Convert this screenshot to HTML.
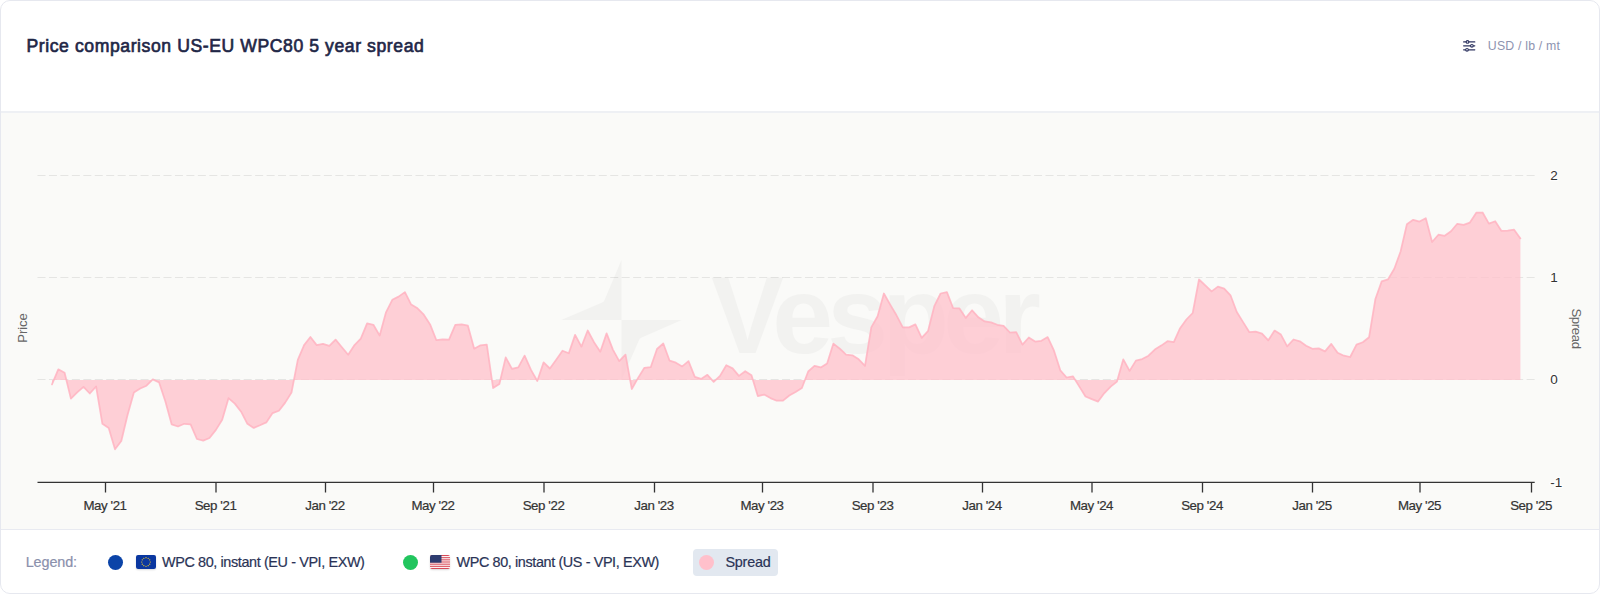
<!DOCTYPE html>
<html lang="en"><head><meta charset="utf-8"><title>Price comparison US-EU WPC80 5 year spread</title>
<style>
*{box-sizing:border-box}
html,body{margin:0;padding:0;background:#fff;width:1600px;height:594px;overflow:hidden}
body{font-family:"Liberation Sans",sans-serif;position:relative}
.card{position:absolute;left:0;top:0;width:1600px;height:594px;border:1px solid #e6e8ef;border-radius:10px;background:#fff;overflow:hidden}
.title{position:absolute;left:25.5px;top:34px;font-size:17.6px;line-height:22px;font-weight:400;-webkit-text-stroke:0.65px #1f2747;color:#1f2747;white-space:nowrap;letter-spacing:0.58px}
.units{position:absolute;left:1486.8px;top:38px;font-size:12.3px;line-height:14px;color:#8e93b0;white-space:nowrap;letter-spacing:0.2px}
.ico{position:absolute;left:1461px;top:38.1px;width:14px;height:14px}
.sep1{position:absolute;left:0;top:110px;width:1600px;height:2px;background:#eef0f4}
.chart{position:absolute;left:0;top:112px;width:1598px;height:417px;background:#fafaf8}
.sep2{position:absolute;left:0;top:528px;width:1600px;height:1px;background:#e8eaf1}
svg.plot{position:absolute;left:-1px;top:-1px;width:1600px;height:594px}
.legend{position:absolute;left:0;top:529px;width:1598px;height:64px;font-size:14.4px;color:#2a3356;-webkit-text-stroke:0.2px}
.legend span{position:absolute;top:24px;line-height:17px;white-space:nowrap}
.dot{position:absolute;width:15px;height:15px;border-radius:50%;top:24.6px}
.chip{position:absolute;left:692px;top:19px;width:85px;height:27px;border-radius:4px;background:#e2e8f0}
.flag{position:absolute;top:24.8px;width:20px;height:14px;border-radius:2px;overflow:hidden;box-shadow:0 1px 2px rgba(0,0,0,.15)}
</style></head><body>
<div class="card">
<div class="title">Price comparison US-EU WPC80 5 year spread</div>
<svg class="ico" viewBox="0 0 14 14" fill="none" stroke="#2e3460" stroke-width="1.15" stroke-linecap="round"><path d="M1.6 2.9H12.8M1.6 6.8H12.8M1.6 10.8H12.8"/><circle cx="5.5" cy="2.9" r="1.35" fill="#fff"/><circle cx="9.9" cy="6.8" r="1.35" fill="#fff"/><circle cx="5" cy="10.8" r="1.35" fill="#fff"/></svg>
<div class="units">USD / lb / mt</div>
<div class="sep1"></div>
<div class="chart"></div>
<div class="sep2"></div>
<svg class="plot" viewBox="0 0 1600 594">
<g stroke="#e5e5e3" stroke-width="1" stroke-dasharray="8 3.4547" fill="none">
<path d="M37.5 175.5H1534.75M37.5 277.5H1534.75M37.5 379.5H1534.75"/></g>
<g fill="#000" opacity="0.028">
<path d="M621.5 260 L604.6 300 Q603.8 302 601.8 302.8 L561.3 320 H621.5 Z"/>
<path d="M621.5 380 L638.8 340.4 Q639.6 338.4 641.6 337.6 L681.6 320 H621.5 Z"/>
<text x="711" y="353" font-family="Liberation Sans,sans-serif" font-weight="700" font-size="109.4" letter-spacing="-5.8">Vesper</text>
</g>
<polygon points="52,380 52,384.4 58.3,369.3 64.6,372.7 70.9,398.6 77.2,392.3 83.5,386.9 89.8,393.5 96.1,386.5 102.4,423.8 108.7,427.9 115,449.3 121.3,441 127.6,414.7 133.9,392.5 140.2,388.5 146.5,385.7 152.8,379.4 159.1,382.4 165.4,401.6 171.7,424.4 178,426.5 184.3,423.8 190.6,424.4 196.9,439 203.2,440.6 209.5,438 215.9,429.9 222.2,419.8 228.5,398.2 234.8,403.6 241.1,411.7 247.4,423.8 253.7,427.9 260,425.3 266.3,422.4 272.6,413.1 278.9,410.7 285.2,402.6 291.5,392.5 297.8,359.8 304.1,345.1 310.4,337 316.7,345.1 323,343.8 329.3,345.9 335.6,339.6 341.9,347.3 348.2,354.7 354.5,345.1 360.8,338.6 367.1,323.4 373.4,324.8 379.7,335.6 386,312.3 392.3,299.8 398.6,296.6 404.9,292.1 411.2,304.6 417.5,308.3 423.8,314.7 430.1,324.4 436.4,340.2 442.7,339.4 449,339.6 455.3,324.8 461.6,324.4 467.9,325.7 474.2,348.7 480.5,345.3 486.8,344.6 493.1,388.1 499.4,384 505.7,357.4 512,368.9 518.3,367.3 524.6,355.6 531,369.9 537.3,381 543.6,362.4 549.9,368.5 556.2,359.8 562.5,350.7 568.8,353.3 575.1,334.9 581.4,346.7 587.7,330.5 594,342.2 600.3,351.7 606.6,333.4 612.9,349.6 619.2,361.1 625.5,354.6 631.8,389 638.1,377.9 644.4,367.8 650.7,367.2 657,349 663.3,343.5 669.6,360.7 675.9,362.7 682.2,366.4 688.5,361.1 694.8,376.9 701.1,378.9 707.4,374.8 713.7,381.9 720,375.9 726.3,365.2 732.6,368.4 738.9,375.9 745.2,371.2 751.5,375.3 757.8,396.1 764.1,394.6 770.4,398.1 776.7,400.7 783,400.7 789.3,395.5 795.6,392.1 801.9,388 808.2,371.5 814.5,365.8 820.8,367.4 827.1,363.4 833.4,343.6 839.8,348.6 846.1,354.7 852.4,355.3 858.7,359.3 865,365.8 871.3,327.4 877.6,316.3 883.9,293.5 890.2,304.6 896.5,315.3 902.8,327.4 909.1,327.4 915.4,324.4 921.7,337.9 928,331.1 934.3,306.2 940.6,293.5 946.9,292.1 953.2,308.2 959.5,308.4 965.8,317.9 972.1,310.3 978.4,317.3 984.7,321.4 991,322.4 997.3,324.8 1003.6,325.8 1009.9,332.5 1016.2,332.1 1022.5,344.6 1028.8,337.5 1035.1,341.6 1041.4,340.8 1047.7,337.1 1054,350.7 1060.3,370.3 1066.6,377.5 1072.9,376.3 1079.2,386.4 1085.5,396.5 1091.8,399.1 1098.1,401.6 1104.4,393.1 1110.7,386.6 1117,381.6 1123.3,359.3 1129.6,370.9 1135.9,360.6 1142.2,359.1 1148.5,355.7 1154.8,349.6 1161.2,345.6 1167.5,341.2 1173.8,342.1 1180.1,328.2 1186.4,319.5 1192.7,313 1199,279.5 1205.3,285.4 1211.6,291.4 1217.9,286.6 1224.2,288.6 1230.5,295.3 1236.8,312 1243.1,322.1 1249.4,332.2 1255.7,331.6 1262,333.6 1268.3,340.3 1274.6,330.6 1280.9,334.6 1287.2,346.4 1293.5,339.5 1299.8,341.3 1306.1,345.8 1312.4,348.8 1318.7,348.4 1325,351.4 1331.3,343.9 1337.6,352.8 1343.9,355.7 1350.2,357 1356.5,344.6 1362.8,342.2 1369.1,337.2 1375.4,299 1381.7,281.4 1388,279.4 1394.3,268.7 1400.6,251.5 1406.9,224.2 1413.2,219.8 1419.5,221.6 1425.8,218.2 1432.1,242 1438.4,234.7 1444.7,235.8 1451,231.3 1457.3,223.8 1463.6,224.8 1469.9,222.6 1476.3,212.7 1482.6,212.5 1488.9,223.6 1495.2,221.2 1501.5,230.9 1507.8,230.7 1514.1,229.7 1520.4,238.4 1520.4,380" fill="#ffc0cb" fill-opacity="0.75"/>
<polyline points="52,384.4 58.3,369.3 64.6,372.7 70.9,398.6 77.2,392.3 83.5,386.9 89.8,393.5 96.1,386.5 102.4,423.8 108.7,427.9 115,449.3 121.3,441 127.6,414.7 133.9,392.5 140.2,388.5 146.5,385.7 152.8,379.4 159.1,382.4 165.4,401.6 171.7,424.4 178,426.5 184.3,423.8 190.6,424.4 196.9,439 203.2,440.6 209.5,438 215.9,429.9 222.2,419.8 228.5,398.2 234.8,403.6 241.1,411.7 247.4,423.8 253.7,427.9 260,425.3 266.3,422.4 272.6,413.1 278.9,410.7 285.2,402.6 291.5,392.5 297.8,359.8 304.1,345.1 310.4,337 316.7,345.1 323,343.8 329.3,345.9 335.6,339.6 341.9,347.3 348.2,354.7 354.5,345.1 360.8,338.6 367.1,323.4 373.4,324.8 379.7,335.6 386,312.3 392.3,299.8 398.6,296.6 404.9,292.1 411.2,304.6 417.5,308.3 423.8,314.7 430.1,324.4 436.4,340.2 442.7,339.4 449,339.6 455.3,324.8 461.6,324.4 467.9,325.7 474.2,348.7 480.5,345.3 486.8,344.6 493.1,388.1 499.4,384 505.7,357.4 512,368.9 518.3,367.3 524.6,355.6 531,369.9 537.3,381 543.6,362.4 549.9,368.5 556.2,359.8 562.5,350.7 568.8,353.3 575.1,334.9 581.4,346.7 587.7,330.5 594,342.2 600.3,351.7 606.6,333.4 612.9,349.6 619.2,361.1 625.5,354.6 631.8,389 638.1,377.9 644.4,367.8 650.7,367.2 657,349 663.3,343.5 669.6,360.7 675.9,362.7 682.2,366.4 688.5,361.1 694.8,376.9 701.1,378.9 707.4,374.8 713.7,381.9 720,375.9 726.3,365.2 732.6,368.4 738.9,375.9 745.2,371.2 751.5,375.3 757.8,396.1 764.1,394.6 770.4,398.1 776.7,400.7 783,400.7 789.3,395.5 795.6,392.1 801.9,388 808.2,371.5 814.5,365.8 820.8,367.4 827.1,363.4 833.4,343.6 839.8,348.6 846.1,354.7 852.4,355.3 858.7,359.3 865,365.8 871.3,327.4 877.6,316.3 883.9,293.5 890.2,304.6 896.5,315.3 902.8,327.4 909.1,327.4 915.4,324.4 921.7,337.9 928,331.1 934.3,306.2 940.6,293.5 946.9,292.1 953.2,308.2 959.5,308.4 965.8,317.9 972.1,310.3 978.4,317.3 984.7,321.4 991,322.4 997.3,324.8 1003.6,325.8 1009.9,332.5 1016.2,332.1 1022.5,344.6 1028.8,337.5 1035.1,341.6 1041.4,340.8 1047.7,337.1 1054,350.7 1060.3,370.3 1066.6,377.5 1072.9,376.3 1079.2,386.4 1085.5,396.5 1091.8,399.1 1098.1,401.6 1104.4,393.1 1110.7,386.6 1117,381.6 1123.3,359.3 1129.6,370.9 1135.9,360.6 1142.2,359.1 1148.5,355.7 1154.8,349.6 1161.2,345.6 1167.5,341.2 1173.8,342.1 1180.1,328.2 1186.4,319.5 1192.7,313 1199,279.5 1205.3,285.4 1211.6,291.4 1217.9,286.6 1224.2,288.6 1230.5,295.3 1236.8,312 1243.1,322.1 1249.4,332.2 1255.7,331.6 1262,333.6 1268.3,340.3 1274.6,330.6 1280.9,334.6 1287.2,346.4 1293.5,339.5 1299.8,341.3 1306.1,345.8 1312.4,348.8 1318.7,348.4 1325,351.4 1331.3,343.9 1337.6,352.8 1343.9,355.7 1350.2,357 1356.5,344.6 1362.8,342.2 1369.1,337.2 1375.4,299 1381.7,281.4 1388,279.4 1394.3,268.7 1400.6,251.5 1406.9,224.2 1413.2,219.8 1419.5,221.6 1425.8,218.2 1432.1,242 1438.4,234.7 1444.7,235.8 1451,231.3 1457.3,223.8 1463.6,224.8 1469.9,222.6 1476.3,212.7 1482.6,212.5 1488.9,223.6 1495.2,221.2 1501.5,230.9 1507.8,230.7 1514.1,229.7 1520.4,238.4" fill="none" stroke="#ffb3c1" stroke-opacity="0.85" stroke-width="1.75" stroke-linejoin="round" stroke-linecap="round"/>
<g stroke="#333" stroke-width="1.3" fill="none"><line x1="37.5" y1="482.4" x2="1534.7" y2="482.4"/><line x1="105.5" y1="482.5" x2="105.5" y2="492.5"/><line x1="216" y1="482.5" x2="216" y2="492.5"/><line x1="325.5" y1="482.5" x2="325.5" y2="492.5"/><line x1="433.5" y1="482.5" x2="433.5" y2="492.5"/><line x1="544" y1="482.5" x2="544" y2="492.5"/><line x1="654.5" y1="482.5" x2="654.5" y2="492.5"/><line x1="762.5" y1="482.5" x2="762.5" y2="492.5"/><line x1="873" y1="482.5" x2="873" y2="492.5"/><line x1="982.5" y1="482.5" x2="982.5" y2="492.5"/><line x1="1092" y1="482.5" x2="1092" y2="492.5"/><line x1="1202.5" y1="482.5" x2="1202.5" y2="492.5"/><line x1="1312.5" y1="482.5" x2="1312.5" y2="492.5"/><line x1="1420" y1="482.5" x2="1420" y2="492.5"/><line x1="1531.5" y1="482.5" x2="1531.5" y2="492.5"/></g>
<g font-family="Liberation Sans,sans-serif" font-size="13.3" letter-spacing="-0.42" fill="#333" stroke="#333" stroke-width="0.2" text-anchor="middle"><text x="105.0" y="510">May '21</text><text x="215.5" y="510">Sep '21</text><text x="325.0" y="510">Jan '22</text><text x="433.0" y="510">May '22</text><text x="543.5" y="510">Sep '22</text><text x="654.0" y="510">Jan '23</text><text x="762.0" y="510">May '23</text><text x="872.5" y="510">Sep '23</text><text x="982.0" y="510">Jan '24</text><text x="1091.5" y="510">May '24</text><text x="1202.0" y="510">Sep '24</text><text x="1312.0" y="510">Jan '25</text><text x="1419.5" y="510">May '25</text><text x="1531.0" y="510">Sep '25</text></g>
<g font-family="Liberation Sans,sans-serif" font-size="13.5" fill="#333" stroke="#fff" stroke-width="2.5" paint-order="stroke" stroke-linejoin="round" stroke-opacity="0.9">
<text x="1550.3" y="180.2">2</text><text x="1550.3" y="282.2">1</text><text x="1550.3" y="384.2">0</text><text x="1550.2" y="487.3">-1</text></g>
<g font-family="Liberation Sans,sans-serif" font-size="13.2" fill="#666" text-anchor="middle">
<text transform="translate(27.4 328) rotate(-90)" letter-spacing="-0.1">Price</text>
<text transform="translate(1572 328.5) rotate(90)" letter-spacing="-0.4">Spread</text></g>
</svg>
<div class="legend">
<span style="left:24.7px;color:#8a90ac;letter-spacing:-0.1px">Legend:</span>
<div class="dot" style="left:106.5px;background:#0b44a8"></div>
<div class="flag" style="left:134.5px"><svg width="20" height="14" viewBox="0 0 20 14"><rect width="20" height="14" fill="#0a37a0"/><g fill="#ffd21e"><circle cx="10.00" cy="2.70" r="0.62"/><circle cx="12.15" cy="3.28" r="0.62"/><circle cx="13.72" cy="4.85" r="0.62"/><circle cx="14.30" cy="7.00" r="0.62"/><circle cx="13.72" cy="9.15" r="0.62"/><circle cx="12.15" cy="10.72" r="0.62"/><circle cx="10.00" cy="11.30" r="0.62"/><circle cx="7.85" cy="10.72" r="0.62"/><circle cx="6.28" cy="9.15" r="0.62"/><circle cx="5.70" cy="7.00" r="0.62"/><circle cx="6.28" cy="4.85" r="0.62"/><circle cx="7.85" cy="3.28" r="0.62"/></g></svg></div>
<span style="left:161px;letter-spacing:-0.38px">WPC 80, instant (EU - VPI, EXW)</span>
<div class="dot" style="left:402px;background:#22c55e"></div>
<div class="flag" style="left:428.9px"><svg width="20" height="14" viewBox="0 0 20 14"><rect width="20" height="14" fill="#fff"/><g fill="#d94a58"><rect x="0" y="0.00" width="20" height="1.08"/><rect x="0" y="2.15" width="20" height="1.08"/><rect x="0" y="4.31" width="20" height="1.08"/><rect x="0" y="6.46" width="20" height="1.08"/><rect x="0" y="8.62" width="20" height="1.08"/><rect x="0" y="10.77" width="20" height="1.08"/><rect x="0" y="12.92" width="20" height="1.08"/></g><rect width="11.5" height="7.7" fill="#2e3c70"/></svg></div>
<span style="left:455.5px;letter-spacing:-0.38px">WPC 80, instant (US - VPI, EXW)</span>
<div class="chip"></div>
<div class="dot" style="left:698px;background:#ffc0cb"></div>
<span style="left:724.5px;letter-spacing:-0.25px">Spread</span>
</div>
</div>
</body></html>
